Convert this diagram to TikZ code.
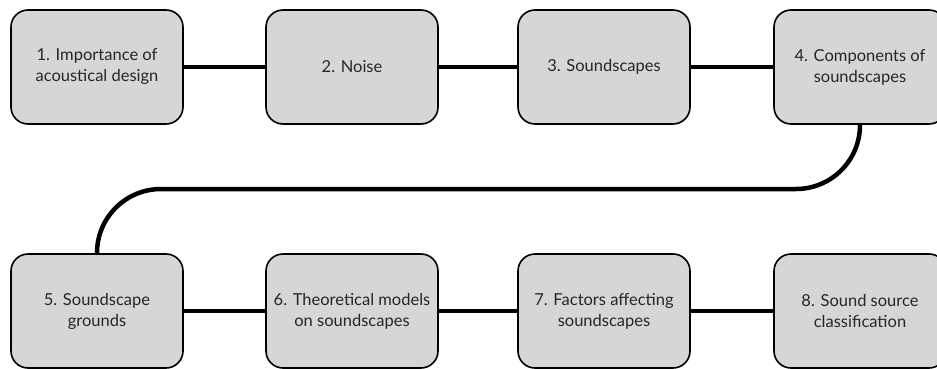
\documentclass[tikz,border=0pt]{standalone}
\usepackage{fontspec}
\setmainfont{Lato}
\definecolor{boxgray}{HTML}{D6D6D6}
\begin{document}
\begin{tikzpicture}[x=1pt,y=-1pt,
  stepbox/.style={draw=black, line width=1.6pt, fill=boxgray, rounded corners=17pt,
    minimum width=172pt, minimum height=114pt, inner sep=0pt, align=center,
    font=\fontsize{16.5}{21}\selectfont, text=black!85},
  link/.style={line width=4.5pt, black}]
\useasboundingbox (0,0) rectangle (937,369);
\clip (0,0) rectangle (937,369);
\fill[white] (0,0) rectangle (937,369);
\node[stepbox] (b1) at (97,67) {1. Importance of\\acoustical design};
\node[stepbox] (b2) at (352,67) {2. Noise};
\node[stepbox] (b3) at (604,67) {3. Soundscapes};
\node[stepbox] (b4) at (860,67) {4. Components of\\soundscapes};
\node[stepbox] (b5) at (97,311) {5. Soundscape\\grounds};
\node[stepbox] (b6) at (352,311) {6. Theoretical models\\on soundscapes};
\node[stepbox] (b7) at (604,311) {7. Factors affecting\\soundscapes};
\node[stepbox] (b8) at (860,311) {8. Sound source\\classification};
\coordinate (turn) at (480,189);
\draw[link] (b1) -- (b2);
\draw[link] (b2) -- (b3);
\draw[link] (b3) -- (b4);
\draw[link, rounded corners=64pt] (b4.south) |- (turn) -| (b5.north);
\draw[link] (b5) -- (b6);
\draw[link] (b6) -- (b7);
\draw[link] (b7) -- (b8);
\end{tikzpicture}
\end{document}
